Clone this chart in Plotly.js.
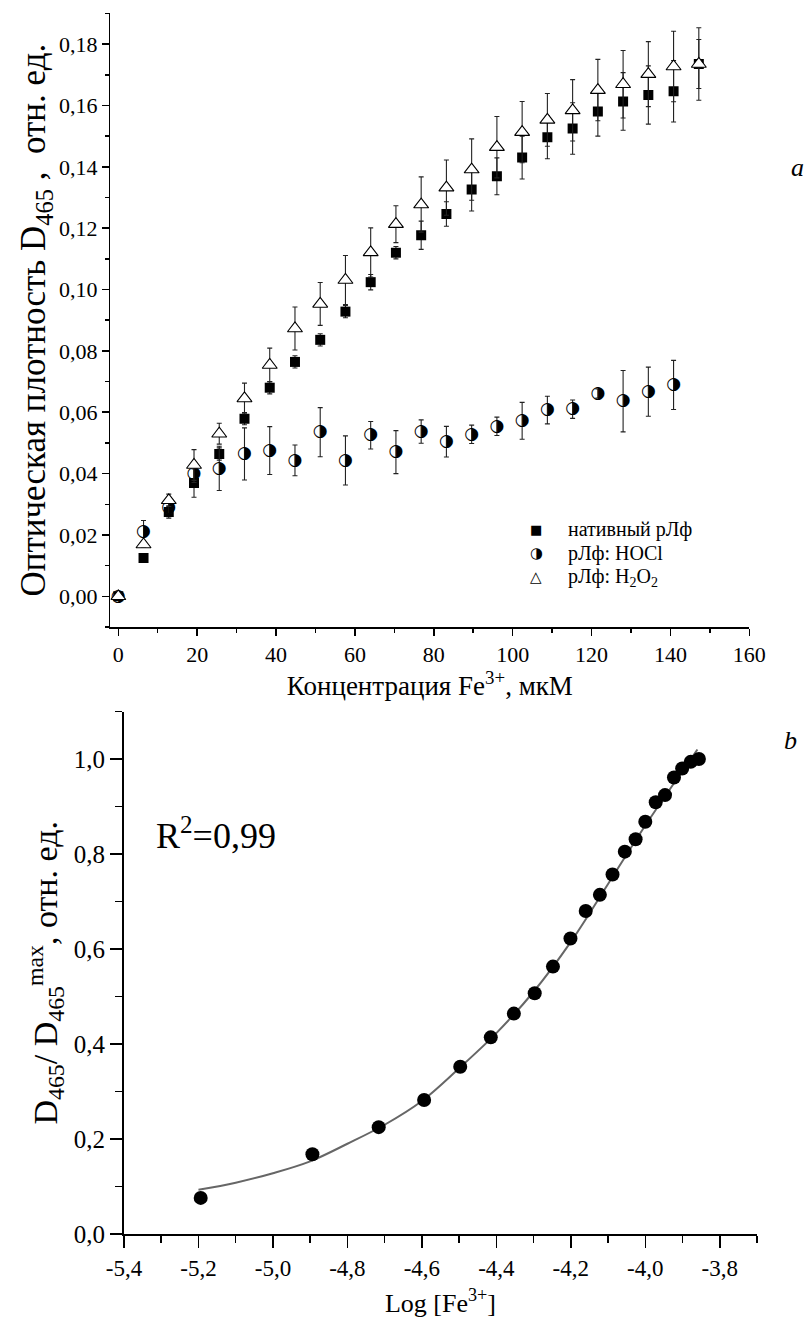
<!DOCTYPE html>
<html><head><meta charset="utf-8">
<script src="https://cdn.plot.ly/plotly-3.0.1.min.js"></script>
<style>
body{margin:0;background:#fff}
#chart .main-svg text{font-family:"Liberation Serif",serif !important;}
</style>
</head><body><div id="chart" style="width:806px;height:1328px"></div>
<script>
// ---- Panel a: absorbance vs Fe3+ concentration ----
const concNative = [0, 6.4, 12.8, 19.2, 25.6, 32, 38.4, 44.8, 51.2, 57.6, 64, 70.4, 76.8, 83.2, 89.6, 96, 102.4, 108.8, 115.2, 121.6, 128, 134.4, 140.8, 147.2];
const dNative = [0, 0.0125, 0.0275, 0.0369, 0.0464, 0.0579, 0.068, 0.0764, 0.0836, 0.0928, 0.1024, 0.112, 0.1177, 0.1246, 0.1326, 0.1369, 0.143, 0.1496, 0.1525, 0.158, 0.1613, 0.1634, 0.1646, 0.1735];
const errNative = [0, 0.001, 0.002, 0.0046, 0.002, 0.002, 0.002, 0.002, 0.002, 0.002, 0.0025, 0.002, 0.0046, 0.004, 0.007, 0.006, 0.007, 0.007, 0.0084, 0.008, 0.0094, 0.0095, 0.01, 0.008];

const concHOCl = [0, 6.4, 12.8, 19.2, 25.6, 32, 38.4, 44.8, 51.2, 57.6, 64, 70.4, 76.8, 83.2, 89.6, 96, 102.4, 108.8, 115.2, 121.6, 128, 134.4, 140.8];
const dHOCl = [0, 0.0212, 0.029, 0.0401, 0.0417, 0.0464, 0.0475, 0.0443, 0.0535, 0.0443, 0.0525, 0.047, 0.0537, 0.0504, 0.0528, 0.0554, 0.0572, 0.0607, 0.061, 0.0661, 0.0636, 0.0667, 0.0689];
const errHOCl = [0, 0.0035, 0.002, 0.003, 0.0072, 0.0085, 0.0078, 0.005, 0.008, 0.008, 0.0045, 0.007, 0.0038, 0.005, 0.003, 0.003, 0.006, 0.0045, 0.003, 0.0015, 0.01, 0.008, 0.008];

const concH2O2 = [0, 6.4, 12.8, 19.2, 25.6, 32, 38.4, 44.8, 51.2, 57.6, 64, 70.4, 76.8, 83.2, 89.6, 96, 102.4, 108.8, 115.2, 121.6, 128, 134.4, 140.8, 147.2];
const dH2O2 = [0, 0.0169, 0.0313, 0.0428, 0.053, 0.0645, 0.0754, 0.0873, 0.0953, 0.1031, 0.1121, 0.1213, 0.1277, 0.1332, 0.1391, 0.1464, 0.1513, 0.1553, 0.1584, 0.165, 0.1669, 0.1702, 0.1727, 0.1735];
const errH2O2 = [0, 0.001, 0.002, 0.005, 0.0034, 0.005, 0.0055, 0.007, 0.007, 0.008, 0.008, 0.006, 0.009, 0.009, 0.01, 0.01, 0.01, 0.0086, 0.01, 0.01, 0.011, 0.0106, 0.0115, 0.0118];

const seriesNames = ['нативный рЛф', 'рЛф: HOCl', 'рЛф: H<sub>2</sub>O<sub>2</sub>'];

// ---- Panel b: normalized absorbance vs log[Fe3+] ----
const logFe = [-5.194, -4.894, -4.716, -4.594, -4.497, -4.415, -4.353, -4.297, -4.248, -4.201, -4.16, -4.122, -4.088, -4.055, -4.026, -4.0, -3.972, -3.947, -3.923, -3.901, -3.878, -3.856];
const dNorm = [0.076, 0.168, 0.225, 0.282, 0.352, 0.414, 0.464, 0.507, 0.563, 0.622, 0.68, 0.714, 0.757, 0.805, 0.831, 0.868, 0.909, 0.924, 0.961, 0.98, 0.994, 1.0];
const fitX = [-5.2, -5.1, -5.0, -4.9, -4.8, -4.7, -4.6, -4.5, -4.4, -4.3, -4.2, -4.1, -4.0, -3.9, -3.86];
const fitY = [0.093, 0.108, 0.128, 0.153, 0.19, 0.23, 0.28, 0.349, 0.423, 0.51, 0.615, 0.737, 0.86, 0.975, 1.02];
const bxTickVals = [-5.4, -5.2, -5.0, -4.8, -4.6, -4.4, -4.2, -4.0, -3.8];
const bxTickText = ['-5,4', '-5,2', '-5,0', '-4,8', '-4,6', '-4,4', '-4,2', '-4,0', '-3,8'];

const serif = 'Liberation Serif';
const glyph = s => '<span style="font-family:DejaVu Sans">' + s + '</span>';
const errStyle = {type: 'data', visible: true, color: '#222', thickness: 1.1, width: 2.5};

const traces = [
  {x: concNative, y: dNative, type: 'scatter', mode: 'markers', name: seriesNames[0], showlegend: false,
   marker: {symbol: 'square', size: 10, color: 'black'},
   error_y: Object.assign({array: errNative}, errStyle), xaxis: 'x', yaxis: 'y'},
  {x: concHOCl, y: dHOCl, type: 'scatter', mode: 'markers+text', name: seriesNames[1], showlegend: false,
   marker: {symbol: 'circle', size: 11, color: 'rgba(0,0,0,0)'},
   text: concHOCl.map(() => glyph('◑')), textposition: 'middle center',
   textfont: {family: 'DejaVu Sans', size: 17, color: '#000000'},
   error_y: Object.assign({array: errHOCl}, errStyle), xaxis: 'x', yaxis: 'y'},
  {x: concH2O2, y: dH2O2, type: 'scatter', mode: 'markers', name: seriesNames[2], showlegend: false,
   marker: {symbol: 'triangle-up', size: 13, color: 'white', line: {color: 'black', width: 1.1}},
   error_y: Object.assign({array: errH2O2}, errStyle), xaxis: 'x', yaxis: 'y'},
  {x: fitX, y: fitY, type: 'scatter', mode: 'lines', name: 'fit', showlegend: false,
   line: {color: '#666', width: 2, shape: 'spline'}, xaxis: 'x2', yaxis: 'y2'},
  {x: logFe, y: dNorm, type: 'scatter', mode: 'markers', name: 'D/Dmax', showlegend: false,
   marker: {symbol: 'circle', size: 14, color: 'black'}, xaxis: 'x2', yaxis: 'y2'}
];

const axBase = {showline: true, linecolor: 'black', linewidth: 1.6, showgrid: false, zeroline: false,
  ticks: 'outside', tickcolor: 'black', tickwidth: 1.5, automargin: false};

const legendY = [1 - 529/1328, 1 - 553/1328, 1 - 577/1328];
const legendSym = ['■', '◑', '△'];

const annotations = [];
for (let i = 0; i < 3; i++) {
  annotations.push({xref: 'paper', yref: 'paper', x: 536/806, y: legendY[i], text: glyph(legendSym[i]), showarrow: false,
    xanchor: 'center', yanchor: 'middle', font: {family: 'DejaVu Sans', size: i === 0 ? 13 : 15, color: 'black'}});
  annotations.push({xref: 'paper', yref: 'paper', x: 566/806, y: legendY[i], text: seriesNames[i], showarrow: false,
    xanchor: 'left', yanchor: 'middle', font: {family: serif, size: 20, color: 'black'}});
}
annotations.push({xref: 'paper', yref: 'paper', x: 797/806, y: 1 - 167/1328, text: '<i>a</i>', showarrow: false,
  xanchor: 'center', yanchor: 'middle', font: {family: serif, size: 26, color: 'black'}});
annotations.push({xref: 'paper', yref: 'paper', x: 790/806, y: 1 - 740/1328, text: '<i>b</i>', showarrow: false,
  xanchor: 'center', yanchor: 'middle', font: {family: serif, size: 26, color: 'black'}});
annotations.push({xref: 'paper', yref: 'paper', x: 216/806, y: 1 - 833/1328, text: 'R<sup>2</sup>=0,99', showarrow: false,
  xanchor: 'center', yanchor: 'middle', font: {family: serif, size: 36, color: 'black'}});

const layout = {
  width: 806, height: 1328,
  margin: {l: 0, r: 0, t: 0, b: 0},
  paper_bgcolor: 'white', plot_bgcolor: 'white',
  separators: ', ',
  showlegend: false,
  font: {family: serif, color: 'black'},
  xaxis: Object.assign({}, axBase, {
    domain: [110.4/806, 749.3/806], anchor: 'y', range: [-2, 160],
    tickmode: 'linear', tick0: 0, dtick: 20, ticklen: 7,
    minor: {dtick: 10, ticks: 'outside', ticklen: 4, tickwidth: 1.5, tickcolor: 'black', showgrid: false},
    tickfont: {family: serif, size: 22, color: 'black'},
    title: {text: 'Концентрация Fe<sup>3+</sup>, мкМ', font: {family: serif, size: 27, color: 'black'}, standoff: 0}
  }),
  yaxis: Object.assign({}, axBase, {
    domain: [1 - 627/1328, 1 - 13.4/1328], anchor: 'x', range: [-0.01, 0.19],
    tickmode: 'linear', tick0: 0, dtick: 0.02, tickformat: '.2f', ticklen: 7,
    minor: {dtick: 0.01, ticks: 'outside', ticklen: 4, tickwidth: 1.5, tickcolor: 'black', showgrid: false},
    tickfont: {family: serif, size: 22, color: 'black'},
    title: {text: 'Оптическая плотность D<sub>465</sub> ,  отн. ед.', font: {family: serif, size: 35, color: 'black'}, standoff: 2}
  }),
  xaxis2: Object.assign({}, axBase, {
    domain: [124/806, 757/806], anchor: 'y2', range: [-5.4, -3.7],
    tickmode: 'array', tickvals: bxTickVals, ticktext: bxTickText, ticklen: 12, linewidth: 2,
    minor: {tick0: -5.4, dtick: 0.1, ticks: 'outside', ticklen: 7, tickwidth: 1.5, tickcolor: 'black', showgrid: false},
    tickfont: {family: serif, size: 23, color: 'black'},
    title: {text: 'Log [Fe<sup>3+</sup>]', font: {family: serif, size: 26, color: 'black'}, standoff: 14}
  }),
  yaxis2: Object.assign({}, axBase, {
    domain: [1 - 1234/1328, 1 - 711.5/1328], anchor: 'x2', range: [0, 1.1],
    tickmode: 'linear', tick0: 0, dtick: 0.2, tickformat: '.1f', ticklen: 12, linewidth: 2,
    minor: {dtick: 0.1, ticks: 'outside', ticklen: 7, tickwidth: 1.5, tickcolor: 'black', showgrid: false},
    tickfont: {family: serif, size: 25, color: 'black'},
    title: {text: 'D<sub>465</sub>/ D<sub>465</sub><sup>max</sup>, отн. ед.', font: {family: serif, size: 34, color: 'black'}, standoff: 6}
  }),
  annotations: annotations
};

Plotly.newPlot('chart', traces, layout, {staticPlot: true, displayModeBar: false});
</script></body></html>
